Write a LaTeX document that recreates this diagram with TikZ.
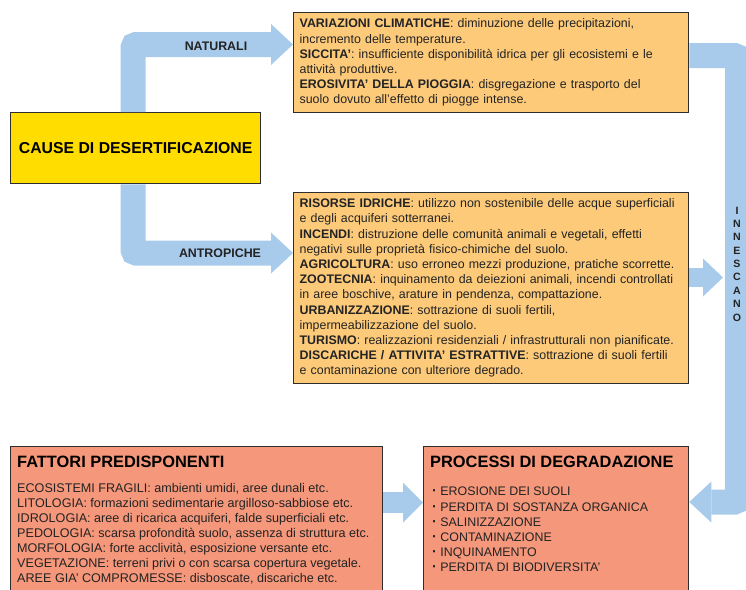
\documentclass[tikz,border=0pt]{standalone}
\usepackage{fontspec}
\setmainfont{Liberation Sans}
\usetikzlibrary{arrows.meta}
\usetikzlibrary{positioning}
\definecolor{pipeblue}{RGB}{168,203,235}
\definecolor{causeyellow}{RGB}{255,221,0}
\definecolor{lightorange}{RGB}{253,202,122}
\definecolor{salmon}{RGB}{245,151,122}
\definecolor{boxline}{RGB}{45,45,45}
\definecolor{txt}{RGB}{35,35,35}
\tikzset{%
  pipe/.style = {draw=pipeblue, line width=25pt, rounded corners=3pt},
  bigtip/.style = {-{Triangle[width=41pt,length=22pt,line width=0pt]}},
  box/.style = {rectangle, draw=boxline, line width=1.3pt,
        anchor=north west, inner sep=0pt},
  listbox/.style = {box, fill=lightorange, align=left, text=txt,
        inner xsep=6pt, text width=383pt,
        font=\fontsize{12.4}{15.2}\selectfont},
  lbl/.style = {font=\bfseries\fontsize{12.4}{14}\selectfont, text=txt},
  head/.style = {font=\bfseries\fontsize{16.4}{19}\selectfont,
        anchor=base west, inner sep=0pt},
  items/.style = {align=left, anchor=north west, inner sep=0pt, text=txt,
        font=\fontsize{12.6}{15.1}\selectfont}
}
\begin{document}
\begin{tikzpicture}[x=1pt,y=-1pt]
    \path[use as bounding box, clip] (0,0) rectangle (746,589);
    % boxes
    \node[box, fill=causeyellow, minimum width=250pt, minimum height=71pt,
        font=\bfseries\fontsize{15.8}{18}\selectfont] (cause) at (10,112)
        {CAUSE DI DESERTIFICAZIONE};
    \node[listbox, minimum height=100pt] (natural) at (293,12)
        {\textbf{VARIAZIONI CLIMATICHE}: diminuzione delle precipitazioni,\\
        incremento delle temperature.\\
        \textbf{SICCITA’}: insufficiente disponibilità idrica per gli ecosistemi e le\\
        attività produttive.\\
        \textbf{EROSIVITA’ DELLA PIOGGIA}: disgregazione e trasporto del\\
        suolo dovuto all’effetto di piogge intense.};
    \node[listbox, minimum height=191pt] (anthro) at (293,192)
        {\textbf{RISORSE IDRICHE}: utilizzo non sostenibile delle acque superficiali\\
        e degli acquiferi sotterranei.\\
        \textbf{INCENDI}: distruzione delle comunità animali e vegetali, effetti\\
        negativi sulle proprietà fisico-chimiche del suolo.\\
        \textbf{AGRICOLTURA}: uso erroneo mezzi produzione, pratiche scorrette.\\
        \textbf{ZOOTECNIA}: inquinamento da deiezioni animali, incendi controllati\\
        in aree boschive, arature in pendenza, compattazione.\\
        \textbf{URBANIZZAZIONE}: sottrazione di suoli fertili,\\
        impermeabilizzazione del suolo.\\
        \textbf{TURISMO}: realizzazioni residenziali / infrastrutturali non pianificate.\\
        \textbf{DISCARICHE / ATTIVITA’ ESTRATTIVE}: sottrazione di suoli fertili\\
        e contaminazione con ulteriore degrado.};
    \node[box, fill=salmon, minimum width=372pt, minimum height=170pt] (fatt) at (10,446) {};
    \node[box, fill=salmon, minimum width=265pt, minimum height=170pt] (proc) at (423,446) {};
    % pipes
    \draw[pipe, bigtip] ([xshift=-2.5pt]cause.north) |- (natural.west |- 0,44.5);
    \draw[pipe, bigtip] ([xshift=-2.5pt]cause.south) |- (anthro.west |- 0,253);
    \draw[pipe, bigtip] (natural.east |- 0,55.5) -| (737.5,502) -- (proc.east |- 0,502);
    \coordinate (pipeR) at (723,277.5);
    \draw[pipe, line width=19pt, -{Triangle[width=38pt,length=20pt,line width=0pt]}]
        (anthro.east |- pipeR) -- (pipeR);
    \draw[pipe, line width=21pt, -{Triangle[width=40pt,length=20pt,line width=0pt]}]
        (fatt.east |- 0,502.5) -- (proc.west |- 0,502.5);
    % labels
    \node[lbl] (natLbl) at (216,46) {NATURALI};
    \node[lbl] (antLbl) at (220,253) {ANTROPICHE};
    \node[lbl, align=center, font=\bfseries\fontsize{10.6}{13.4}\selectfont]
        (innesc) at (737,264) {I\\N\\N\\E\\S\\C\\A\\N\\O};
    % bottom texts
    \node[head] (fattHead) at ([xshift=7pt,yshift=-21pt]fatt.north west)
        {FATTORI PREDISPONENTI};
    \node[items] (fattList) at ([yshift=-16pt]fattHead.base west)
        {ECOSISTEMI FRAGILI: ambienti umidi, aree dunali etc.\\
        LITOLOGIA: formazioni sedimentarie argilloso-sabbiose etc.\\
        IDROLOGIA: aree di ricarica acquiferi, falde superficiali etc.\\
        PEDOLOGIA: scarsa profondità suolo, assenza di struttura etc.\\
        MORFOLOGIA: forte acclività, esposizione versante etc.\\
        VEGETAZIONE: terreni privi o con scarsa copertura vegetale.\\
        AREE GIA’ COMPROMESSE: disboscate, discariche etc.};
    \node[head] (procHead) at ([xshift=7pt,yshift=-21pt]proc.north west)
        {PROCESSI DI DEGRADAZIONE};
    \node[items, font=\fontsize{12.4}{15.2}\selectfont] (procList)
        at ([xshift=2pt,yshift=-20pt]procHead.base west)
        {{\Large\textbf{·}} EROSIONE DEI SUOLI\\
        {\Large\textbf{·}} PERDITA DI SOSTANZA ORGANICA\\
        {\Large\textbf{·}} SALINIZZAZIONE\\
        {\Large\textbf{·}} CONTAMINAZIONE\\
        {\Large\textbf{·}} INQUINAMENTO\\
        {\Large\textbf{·}} PERDITA DI BIODIVERSITA’};
\end{tikzpicture}
\end{document}
